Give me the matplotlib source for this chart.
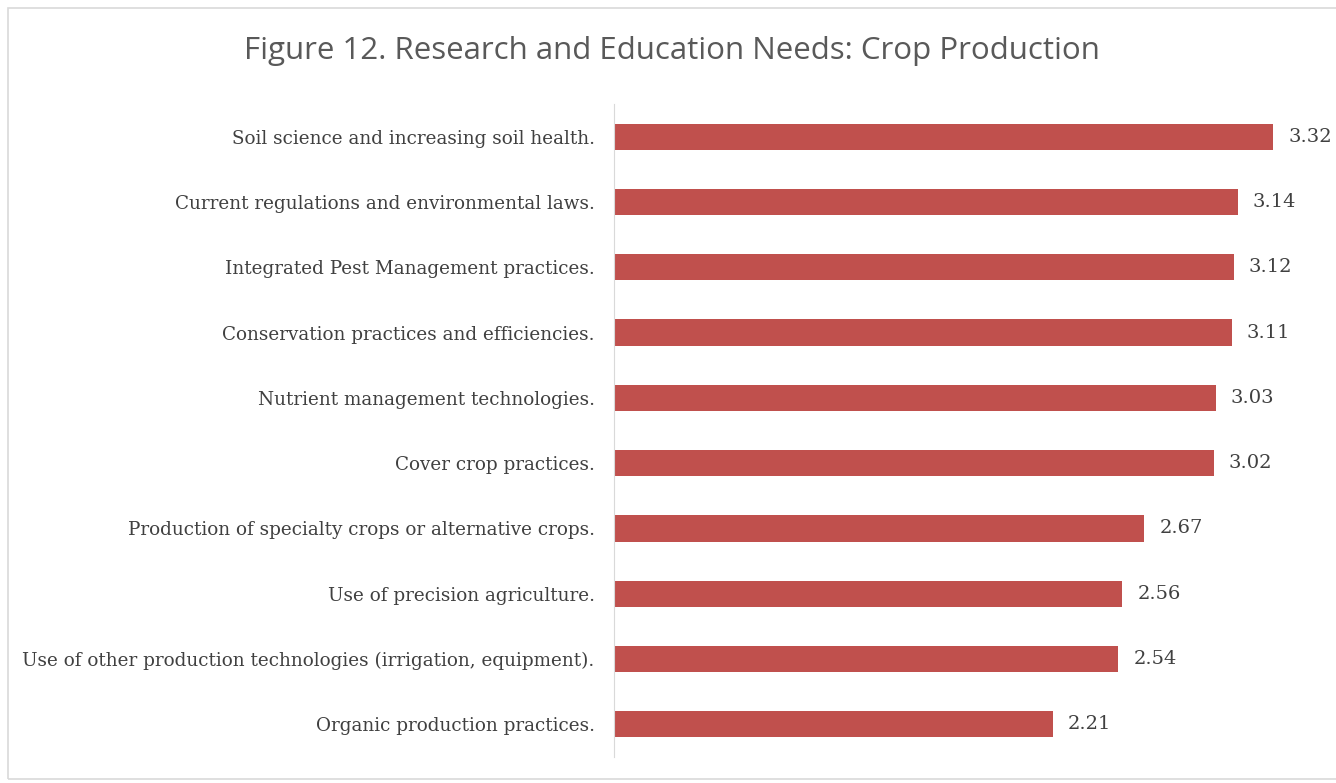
import matplotlib
matplotlib.use('Agg')
import matplotlib.pyplot as plt
from matplotlib.patches import Rectangle

# data
categories = [
    'Soil science and increasing soil health.',
    'Current regulations and environmental laws.',
    'Integrated Pest Management practices.',
    'Conservation practices and efficiencies.',
    'Nutrient management technologies.',
    'Cover crop practices.',
    'Production of specialty crops or alternative crops.',
    'Use of precision agriculture.',
    'Use of other production technologies (irrigation, equipment).',
    'Organic production practices.',
]
scores = [3.32, 3.14, 3.12, 3.11, 3.03, 3.02, 2.67, 2.56, 2.54, 2.21]

bar_color = '#C0504D'
text_color = '#404040'
serif = ['DejaVu Serif']

fig = plt.figure(figsize=(13.36, 7.83), dpi=100)
fig.patches.append(Rectangle((8/1336, 4/783), 1.0, 771/783, transform=fig.transFigure,
                             fill=False, edgecolor='#d9d9d9', linewidth=1.2))

ax = fig.add_axes([614/1336, 26/783, 695/1336, 653/783])
y = list(range(len(categories)))
bars = ax.barh(y, scores, height=0.4, color=bar_color)
ax.set_ylim(len(categories) - 0.5, -0.5)
ax.set_xlim(0, 3.5)

ax.set_yticks(y)
ax.set_yticklabels(categories, fontfamily=serif, fontsize=13.2, color=text_color)
ax.tick_params(axis='y', length=0, pad=14)
ax.set_xticks([])

for s in ['top', 'right', 'bottom']:
    ax.spines[s].set_visible(False)
ax.spines['left'].set_color('#d9d9d9')

ax.bar_label(bars, labels=[f'{v:.2f}' for v in scores], padding=11,
             fontfamily=serif, fontsize=14, color=text_color)

fig.text(672/1336, 1 - 51/783, 'Figure 12. Research and Education Needs: Crop Production',
         ha='center', va='center', fontsize=22.5, color='#595959', fontfamily='Open Sans')

fig.savefig('out.png', dpi=100)
